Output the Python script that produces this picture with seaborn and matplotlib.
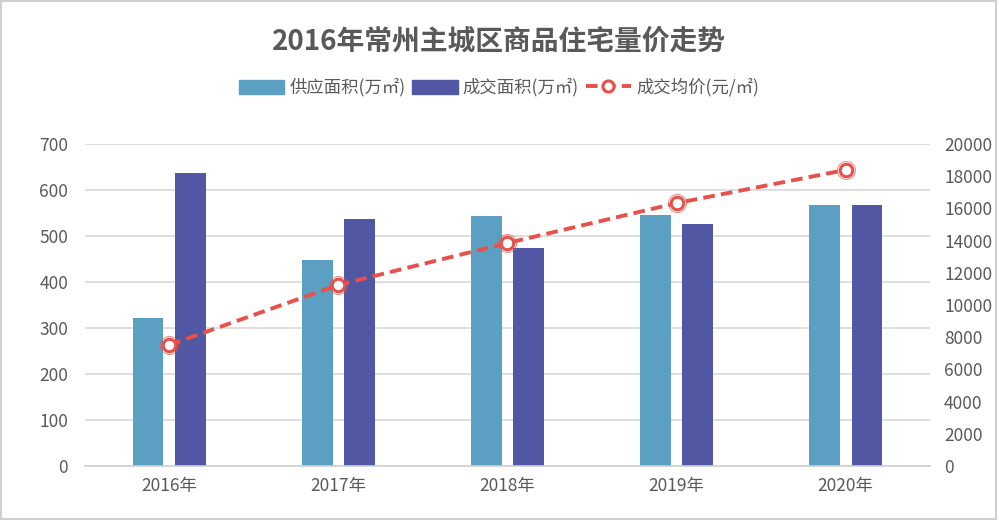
import pandas as pd
import seaborn as sns
import matplotlib.pyplot as plt
from matplotlib.patches import Patch, Rectangle
from matplotlib.lines import Line2D

years = ['2016年', '2017年', '2018年', '2019年', '2020年']
supply = [322, 448, 543, 545, 567]
deal = [637, 537, 474, 526, 567]
price = [7520, 11250, 13850, 16330, 18390]

SUPPLY_LABEL = '供应面积(万㎡)'
DEAL_LABEL = '成交面积(万㎡)'
PRICE_LABEL = '成交均价(元/㎡)'

df = pd.DataFrame({'year': years * 2,
                   'value': supply + deal,
                   'kind': [SUPPLY_LABEL] * 5 + [DEAL_LABEL] * 5})
df_price = pd.DataFrame({'year': years, 'price': price})

sns.set_theme(style='white')
plt.rcParams['font.family'] = ['Noto Sans CJK SC', 'DejaVu Sans']

c_supply = '#5BA0C2'
c_deal = '#5257A3'
c_price = '#E8504A'
grey = '#595959'

fig = plt.figure(figsize=(9.98, 5.2), dpi=100)
ax = fig.add_axes([0.085, 0.104, 0.847, 0.619])

sns.barplot(data=df, x='year', y='value', hue='kind', ax=ax,
            palette=[c_supply, c_deal], width=0.5, gap=0.28,
            saturation=1, legend=False, linewidth=0, zorder=2)
ax.set_ylim(0, 700)
ax.set_yticks(range(0, 701, 100))
ax.set_xlim(-0.5, 4.5)
ax.grid(axis='y', color='#D9D9D9', linewidth=1.2, zorder=0)
ax.set_axisbelow(True)
for s in ['top', 'right', 'left']:
    ax.spines[s].set_visible(False)
ax.spines['bottom'].set_color('#D0D0D0')
ax.spines['bottom'].set_linewidth(1.2)
ax.set_xlabel('')
ax.set_ylabel('')
ax.tick_params(axis='both', length=0, labelsize=12.5, colors=grey)
ax.tick_params(axis='x', pad=8)
ax.tick_params(axis='y', pad=12)

ax2 = ax.twinx()
sns.lineplot(data=df_price, x='year', y='price', ax=ax2, color=c_price,
             linewidth=2.8, linestyle=(0, (3, 1.6)), marker='o', markersize=9,
             markerfacecolor='white', markeredgecolor=c_price,
             markeredgewidth=2.2, zorder=5)
ax2.plot(range(len(years)), price, linestyle='none', marker='o', markersize=13,
         markerfacecolor='none', markeredgecolor=c_price, markeredgewidth=0.8,
         alpha=0.6, zorder=5)
ax2.set_ylim(0, 20000)
ax2.set_yticks(range(0, 20001, 2000))
ax2.set_xlim(-0.5, 4.5)
for s in ['top', 'right', 'left', 'bottom']:
    ax2.spines[s].set_visible(False)
ax2.set_ylabel('')
ax2.set_xlabel('')
ax2.tick_params(axis='y', length=0, labelsize=12.5, colors=grey, pad=10)

fig.text(0.5, 0.92, '2016年常州主城区商品住宅量价走势', ha='center', va='center',
         fontsize=20, fontweight='bold', color=grey)

handles = [Patch(color=c_supply, label=SUPPLY_LABEL),
           Patch(color=c_deal, label=DEAL_LABEL),
           Line2D([0], [0], color=c_price, linewidth=2.8, linestyle=(0, (3, 1.6)),
                  marker='o', markersize=8, markerfacecolor='white',
                  markeredgecolor=c_price, markeredgewidth=2.2, label=PRICE_LABEL)]
leg = fig.legend(handles=handles, loc='center', bbox_to_anchor=(0.5, 0.832), ncol=3,
                 frameon=False, fontsize=12.5, handlelength=2.6, handleheight=0.9,
                 columnspacing=0.4, handletextpad=0.3)
for t in leg.get_texts():
    t.set_color(grey)

fig.patches.append(Rectangle((0.001, 0.002), 0.997, 0.996, transform=fig.transFigure,
                             fill=False, edgecolor='#D0D0D0', linewidth=1.5))

fig.savefig('out.png', dpi=100)
